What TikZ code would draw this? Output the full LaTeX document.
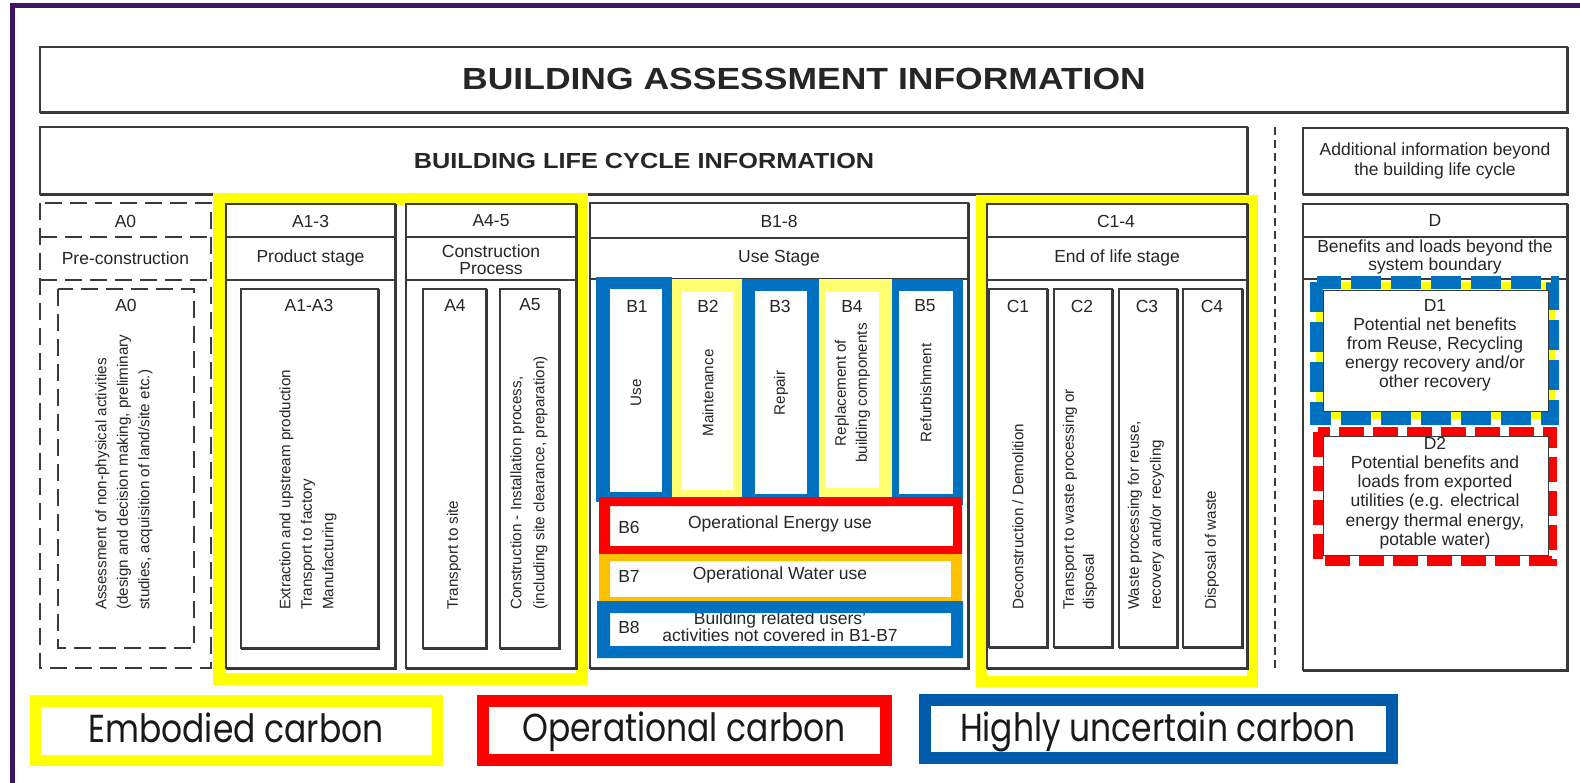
\documentclass[tikz,border=0pt]{standalone}
\usepackage{fontspec}
\setmainfont{Liberation Sans}
\newfontfamily\titlefont{Liberation Sans}[FakeStretch=1.16]
\newfontfamily\legendfont{Poppins}[FakeStretch=0.845]
\definecolor{framec}{HTML}{3F1566}
\definecolor{ublue}{HTML}{0070C0}
\definecolor{lblue}{HTML}{005BAA}
\definecolor{lyel}{HTML}{FFFF70}
\definecolor{orng}{HTML}{FFC000}
\definecolor{ylw}{HTML}{FFFF00}
\definecolor{rd}{HTML}{FF0000}
\definecolor{lnc}{HTML}{3A3A3A}
\begin{document}
\begin{tikzpicture}[x=1pt,y=-1pt,
  box/.style={draw=lnc, line width=1.5pt, fill=white,
    preaction={draw=black!80, line width=1.5pt, transform canvas={shift={(1.2pt,-1.2pt)}}}},
  dbox/.style={draw=lnc, line width=2.4pt, dash pattern=on 17pt off 8pt},
  sepline/.style={draw=lnc, line width=1.5pt},
  txt/.style={inner sep=0pt, text=black!85, font=\fontsize{17.5}{18}\selectfont, align=center},
  vtxt/.style={inner sep=0pt, text=black!85, font=\fontsize{15.2}{21.5}\selectfont, rotate=90, anchor=west, align=left},
  vmid/.style={inner sep=0pt, text=black!85, font=\fontsize{15.2}{21}\selectfont, rotate=90, align=center},
  legtxt/.style={inner sep=0pt, text=black!90, font=\legendfont\fontsize{39}{42}\selectfont, anchor=base},
  hilite/.style={draw=ylw, line width=12pt},
]
\useasboundingbox (0,0) rectangle (1580,783);
\fill[white] (0,0) rectangle (1580,783);
% purple frame
\draw[framec, line width=5pt] (12.5,800) -- (12.5,5.5) -- (1600,5.5);

% top boxes
\draw[box] (40,47) rectangle (1567,112);
\node[txt, font=\titlefont\bfseries\fontsize{30.6}{32}\selectfont] (ttl) at (804,79) {BUILDING ASSESSMENT INFORMATION};
\draw[box] (40,127) rectangle (1247,194);
\node[txt, font=\titlefont\bfseries\fontsize{21.8}{24}\selectfont] (blc) at (644,160.5) {BUILDING LIFE CYCLE INFORMATION};
\draw[box] (1303,128) rectangle (1567,194);
\node[txt, font=\fontsize{17.5}{19.5}\selectfont] (addi) at (1435,161) {Additional information beyond\\the building life cycle};

% dashed separator
\draw[lnc, line width=1.5pt, dash pattern=on 8pt off 5pt] (1275,127) -- (1275,668);

% highlight frames (yellow)
\draw[hilite] (219,199) rectangle (582,679);
\draw[draw=ylw, line width=11pt] (981.5,201) rectangle (1252.5,681);

% A0 column
\draw[dbox] (40,203) rectangle (211,668);
\draw[dbox] (40,237) -- (211,237);
\draw[dbox] (40,280) -- (211,280);
\draw[dbox] (58,289) rectangle (194,648);
\node[txt] (a0h) at (125.5,221) {A0};
\node[txt] (a0s) at (125.5,258) {Pre-construction};
\node[txt] (a0l) at (126,305) {A0};
\node[vtxt] (a0t) at (124,610) {Assessment of non-physical activities\\(design and decision making, preliminary\\studies, acquisition of land/site etc.)};

% A1-3 column
\draw[box] (226,204) rectangle (395,668);
\draw[sepline] (226,237) -- (395,237);
\draw[sepline] (226,280) -- (395,280);
\draw[box] (241,289) rectangle (378,648);
\node[txt] (a13h) at (310.5,221) {A1-3};
\node[txt] (a13s) at (310.5,258) {Product stage};
\node[txt] (a13l) at (309,305) {A1-A3};
\node[vtxt] (a13t) at (308,610) {Extraction and upstream production\\Transport to factory\\Manufacturing};

% A4-5 column
\draw[box] (406,204) rectangle (576,668);
\draw[sepline] (406,237) -- (576,237);
\draw[sepline] (406,280) -- (576,280);
\draw[box] (423,289) rectangle (486,648);
\draw[box] (500,289) rectangle (559,648);
\node[txt] (a45h) at (491,221) {A4-5};
\node[txt, font=\fontsize{17.5}{17}\selectfont] (a45s) at (491,259.5) {Construction\\Process};
\node[txt] (a4l) at (455,305) {A4};
\node[txt] (a5l) at (530,305) {A5};
\node[vtxt] (a4t) at (454,610) {Transport to site};
\node[vtxt, font=\fontsize{15.2}{23}\selectfont] (a5t) at (529,610) {Construction - Installation process,\\(including site clearance, preparation)};

% B column
\draw[box] (590,203) rectangle (968,668);
\draw[sepline] (590,238) -- (968,238);
\draw[sepline] (590,279) -- (968,279);
\node[txt] (b18h) at (779,221) {B1-8};
\node[txt] (b18s) at (779,258) {Use Stage};

\fill[ublue] (596,277) rectangle (672,502);
\fill[white] (610,289) rectangle (662,492);
\fill[lyel] (672,279) rectangle (742,497);
\fill[white] (682,292) rectangle (733,490);
\fill[ublue] (742,279) rectangle (819,497);
\fill[white] (755,291) rectangle (807,494);
\fill[lyel] (819,279) rectangle (892,497);
\fill[white] (826,292) rectangle (879,488);
\fill[ublue] (892,279) rectangle (963,505);
\fill[white] (899,291) rectangle (953,494);
\node[txt] (b1l) at (637,306) {B1};
\node[txt] (b2l) at (708,306) {B2};
\node[txt] (b3l) at (780,306) {B3};
\node[txt] (b4l) at (852,306) {B4};
\node[txt] (b5l) at (925,306) {B5};
\node[vmid] (b1t) at (636,393) {Use};
\node[vmid] (b2t) at (708,393) {Maintenance};
\node[vmid] (b3t) at (781,393) {Repair};
\node[vmid] (b4t) at (852.5,393) {Replacement of\\building components};
\node[vmid] (b5t) at (926,393) {Refurbishment};

\fill[rd, even odd rule] (599,497) rectangle (962,554) (610,506) rectangle (953,546);
\fill[orng, even odd rule] (599,554) rectangle (962,601) (610,561) rectangle (951,597);
\node[txt] (b6l) at (629,527) {B6};
\node[txt] (b6t) at (780,524) {Operational Energy use};
\node[txt] (b7l) at (629,576) {B7};
\node[txt] (b7t) at (780,575) {Operational Water use};
\node[txt] (b8l) at (629,627) {B8};
\node[txt, font=\fontsize{17.5}{17}\selectfont] (b8t) at (780,627) {Building related users'\\activities not covered in B1-B7};
\fill[ublue, even odd rule] (597,601) rectangle (963,658) (610,613) rectangle (951,646);

% C column
\draw[box] (987,204) rectangle (1247,668);
\draw[sepline] (987,237) -- (1247,237);
\draw[sepline] (987,280) -- (1247,280);
\draw[box] (989,289) rectangle (1047,647);
\draw[box] (1054,289) rectangle (1112,647);
\draw[box] (1119,289) rectangle (1177,647);
\draw[box] (1183,289) rectangle (1242,647);
\node[txt] (c14h) at (1116,221) {C1-4};
\node[txt] (c14s) at (1117,258) {End of life stage};
\node[txt] (c1l) at (1018,306) {C1};
\node[txt] (c2l) at (1082,306) {C2};
\node[txt] (c3l) at (1147,306) {C3};
\node[txt] (c4l) at (1212,306) {C4};
\node[vtxt] (c1t) at (1018,610) {Deconstruction / Demolition};
\node[vtxt, font=\fontsize{15.2}{20}\selectfont] (c2t) at (1080,610) {Transport to waste processing or\\disposal};
\node[vtxt, font=\fontsize{15.2}{22}\selectfont] (c3t) at (1146,610) {Waste processing for reuse,\\recovery and/or recycling};
\node[vtxt] (c4t) at (1212,610) {Disposal of waste};

% D column
\draw[box] (1303,204) rectangle (1567,670);
\draw[sepline] (1303,237) -- (1567,237);
\draw[sepline] (1303,279) -- (1567,279);
\node[txt] (dh) at (1435,220) {D};
\node[txt] (ds) at (1435,257) {Benefits and loads beyond the\\system boundary};
% D1
\draw[draw=ylw, line width=7pt] (1319.5,285.5) rectangle (1551.5,415.5);
\draw[draw=ublue, line width=13pt, dash pattern=on 30pt off 10pt] (1316.5,282.5) rectangle (1552.5,418.5);
\draw[draw=lnc, line width=1pt, fill=white] (1323,291) rectangle (1548,412);
\node[txt, font=\fontsize{17.5}{19}\selectfont] (d1t) at (1435,345) {D1\\Potential net benefits\\from Reuse, Recycling\\energy recovery and/or\\other recovery};
% D2
\draw[draw=rd, line width=10pt, dash pattern=on 25pt off 9pt] (1318,432) rectangle (1552,561);
\draw[draw=lnc, line width=1pt, fill=white] (1323,437) rectangle (1548,555);
\node[txt, font=\fontsize{17.5}{19.3}\selectfont] (d2t) at (1435,493) {D2\\Potential benefits and\\loads from exported\\utilities (e.g. electrical\\energy thermal energy,\\potable water)};

% legend
\draw[draw=ylw, line width=11.5pt] (35.5,701) rectangle (437.5,760.5);
\node[legtxt] (leg1) at (236,742) {Embodied carbon};
\draw[draw=rd, line width=12pt] (483,701) rectangle (886,760);
\node[legtxt] (leg2) at (684,741) {Operational carbon};
\draw[draw=lblue, line width=12pt] (925,699.5) rectangle (1391.5,757.5);
\node[legtxt] (leg3) at (1158,741) {Highly uncertain carbon};
\end{tikzpicture}
\end{document}
